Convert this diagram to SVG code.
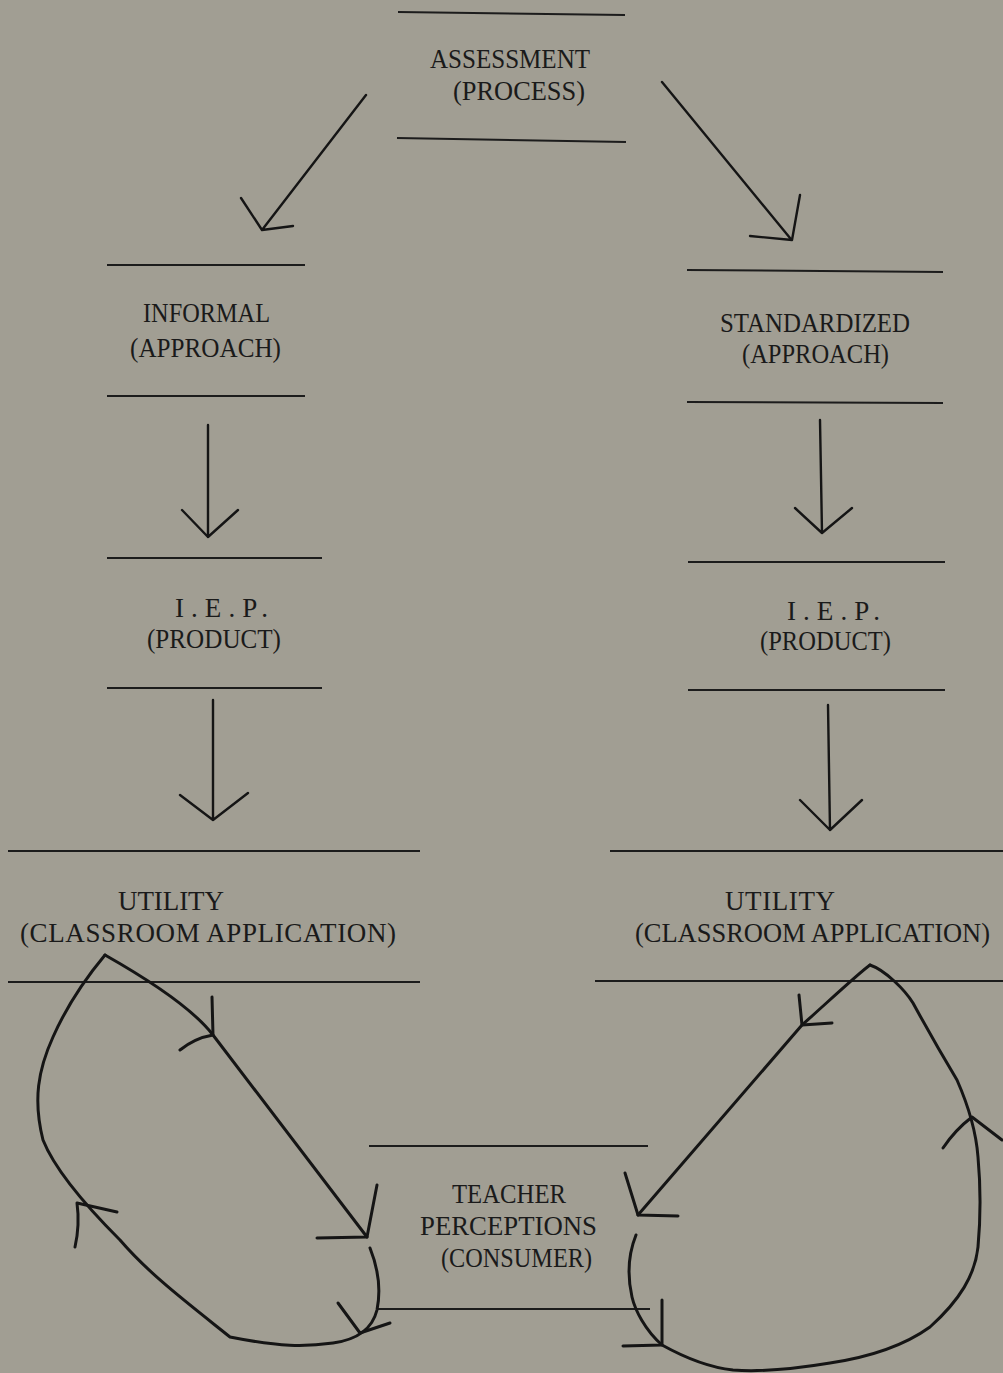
<svg xmlns="http://www.w3.org/2000/svg" width="1003" height="1373" viewBox="0 0 1003 1373">
<style>
.bg{fill:#a19e93}
.rule{stroke:#1c1c1c;stroke-width:2;fill:none}
.ln{stroke:#151515;stroke-width:2.4;fill:none;stroke-linecap:round;stroke-linejoin:round}
.lp{stroke:#151515;stroke-width:3;fill:none;stroke-linecap:round;stroke-linejoin:round}
text{font-family:"Liberation Serif","Times New Roman",serif;font-size:27px;fill:#1a1a1a}
</style>
<rect class="bg" x="0" y="0" width="1003" height="1373"/>
<g id="node-assessment">
<path class="rule" d="M398,12 L625,15 M397,138 L626,142"/>
<text x="430" y="68" textLength="160" lengthAdjust="spacingAndGlyphs">ASSESSMENT</text>
<text x="453" y="100" textLength="132" lengthAdjust="spacingAndGlyphs">(PROCESS)</text>
</g>
<g id="node-informal">
<path class="rule" d="M107,265 L305,265 M107,396 L305,396"/>
<text x="143" y="322" textLength="127" lengthAdjust="spacingAndGlyphs">INFORMAL</text>
<text x="130" y="357" textLength="151" lengthAdjust="spacingAndGlyphs">(APPROACH)</text>
</g>
<g id="node-standardized">
<path class="rule" d="M687,270 L943,272 M687,402 L943,403"/>
<text x="720" y="332" textLength="190" lengthAdjust="spacingAndGlyphs">STANDARDIZED</text>
<text x="742" y="363" textLength="147" lengthAdjust="spacingAndGlyphs">(APPROACH)</text>
</g>
<g id="node-iep-left">
<path class="rule" d="M107,558 L322,558 M107,688 L322,688"/>
<text x="175" y="617" textLength="93" lengthAdjust="spacing">I.E.P.</text>
<text x="147" y="648" textLength="134" lengthAdjust="spacingAndGlyphs">(PRODUCT)</text>
</g>
<g id="node-iep-right">
<path class="rule" d="M688,562 L945,562 M688,690 L945,690"/>
<text x="787" y="620" textLength="93" lengthAdjust="spacing">I.E.P.</text>
<text x="760" y="650" textLength="131" lengthAdjust="spacingAndGlyphs">(PRODUCT)</text>
</g>
<g id="node-utility-left">
<path class="rule" d="M8,851 L420,851 M8,982 L420,982"/>
<text x="118" y="910" textLength="106" lengthAdjust="spacing">UTILITY</text>
<text x="20" y="942" textLength="376" lengthAdjust="spacing">(CLASSROOM APPLICATION)</text>
</g>
<g id="node-utility-right">
<path class="rule" d="M610,851 L1003,851 M595,981 L1003,981"/>
<text x="725" y="910" textLength="110" lengthAdjust="spacing">UTILITY</text>
<text x="635" y="942" textLength="355" lengthAdjust="spacingAndGlyphs">(CLASSROOM APPLICATION)</text>
</g>
<g id="node-teacher">
<path class="rule" d="M369,1146 L648,1146 M377,1309 L650,1309"/>
<text x="452" y="1203" textLength="114" lengthAdjust="spacingAndGlyphs">TEACHER</text>
<text x="420" y="1235" textLength="177" lengthAdjust="spacingAndGlyphs">PERCEPTIONS</text>
<text x="441" y="1267" textLength="151" lengthAdjust="spacingAndGlyphs">(CONSUMER)</text>
</g>
<g id="connectors">
<path class="ln" d="M366,95 L262,230 M241,198 L262,230 L293,226"/>
<path class="ln" d="M662,82 L790,238 M800,195 L792,240 L750,236"/>
<path class="ln" d="M208,425 L208,537 M182,510 L208,537 L238,510"/>
<path class="ln" d="M820,420 L822,533 M795,508 L822,533 L852,508"/>
<path class="ln" d="M213,700 L213,820 M180,795 L213,820 L248,793"/>
<path class="ln" d="M828,705 L830,830 M800,800 L830,830 L862,800"/>
<path class="lp" d="M105,955 C135,972 190,1005 213,1035 L367,1237"/>
<path class="lp" d="M212,997 L213,1035 M180,1050 Q195,1038 213,1035"/>
<path class="lp" d="M377,1185 L367,1237 M317,1238 L367,1237"/>
<path class="lp" d="M370,1248 C378,1268 381,1290 377,1310 C372,1330 355,1340 333,1343 C305,1347 280,1347 230,1337 C190,1305 150,1275 120,1240 C85,1205 55,1170 43,1140 C33,1100 38,1070 53,1037 C65,1010 80,985 105,955"/>
<path class="lp" d="M75,1247 Q80,1225 77,1203 L117,1212"/>
<path class="lp" d="M338,1303 L360,1333 L390,1323"/>
<path class="lp" d="M870,965 C860,972 830,1000 802,1025 L638,1215"/>
<path class="lp" d="M799,995 L802,1025 L832,1023"/>
<path class="lp" d="M625,1173 L638,1215 L678,1216"/>
<path class="lp" d="M870,965 C885,970 905,990 913,1003 C925,1025 945,1060 957,1080 C968,1105 976,1130 978,1157 C981,1190 980,1225 978,1247 C975,1275 960,1300 930,1327 C905,1345 870,1357 830,1363 C800,1368 760,1372 733,1370 C705,1367 680,1355 662,1345 C645,1330 635,1310 632,1297 C627,1275 628,1255 636,1235"/>
<path class="lp" d="M943,1148 Q955,1130 972,1117 L1002,1140"/>
<path class="lp" d="M662,1300 L662,1345 L623,1346"/>
</g>
</svg>
